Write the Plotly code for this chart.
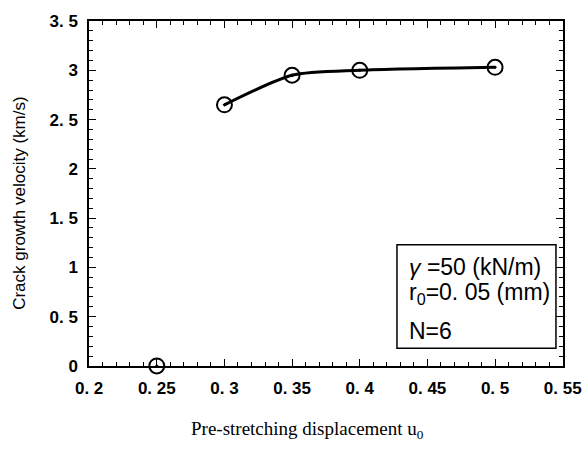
import plotly.graph_objects as go

x_vals = [0.25, 0.3, 0.35, 0.4, 0.5]
y_vals = [0.0, 2.65, 2.95, 3.0, 3.03]
x_ticks = [0.2, 0.25, 0.3, 0.35, 0.4, 0.45, 0.5, 0.55]
x_ticktext = ["0. 2", "0. 25", "0. 3", "0. 35", "0. 4", "0. 45", "0. 5", "0. 55"]
y_ticks = [0, 0.5, 1, 1.5, 2, 2.5, 3, 3.5]
y_ticktext = ["0", "0. 5", "1", "1. 5", "2", "2. 5", "3", "3. 5"]

tickfont = dict(family="Liberation Sans, Arial, sans-serif", size=17, color="black", weight="bold")

fig = go.Figure()
fig.add_trace(go.Scatter(
    x=x_vals[1:], y=y_vals[1:], mode="lines",
    line=dict(color="black", width=3, shape="spline", smoothing=0.7),
    showlegend=False, hoverinfo="skip"))
fig.add_trace(go.Scatter(
    x=x_vals, y=y_vals, mode="markers",
    marker=dict(symbol="circle-open-dot", size=15, color="black", line=dict(width=2, color="black")),
    cliponaxis=False, showlegend=False))

axis_common = dict(
    showline=True, linecolor="black", linewidth=1.5, mirror="ticks",
    ticks="inside", ticklen=7, tickwidth=1.3, tickcolor="black",
    showgrid=False, zeroline=False, tickfont=tickfont, automargin=False,
)
fig.update_xaxes(range=[0.1999, 0.5502], tickvals=x_ticks, ticktext=x_ticktext,
                 ticklabelstandoff=6,
                 minor=dict(dtick=0.01, ticks="inside", ticklen=4, tickcolor="black", tickwidth=1),
                 **axis_common)
fig.update_yaxes(range=[-0.0005, 3.5005], tickvals=y_ticks, ticktext=y_ticktext,
                 ticklabelstandoff=6,
                 minor=dict(dtick=0.1, ticks="inside", ticklen=4, tickcolor="black", tickwidth=1),
                 **axis_common)

fig.add_annotation(
    x=0.5, xref="paper", y=-0.186, yref="paper", yanchor="middle", xanchor="center",
    text="Pre-stretching displacement u<sub>0</sub>", showarrow=False, xshift=-19,
    font=dict(family="Liberation Serif, Times New Roman, serif", size=19, color="black"))
fig.add_annotation(
    x=0, xref="paper", xanchor="center", xshift=-69, y=0.47, yref="paper",
    text="Crack growth velocity (km/s)", textangle=-90, showarrow=False,
    font=dict(family="Liberation Sans, Arial, sans-serif", size=17, color="black"))

boxfont = dict(family="Liberation Sans, Arial, sans-serif", size=23, color="black")
fig.add_shape(type="rect", xref="x", yref="y", x0=0.4275, x1=0.545, y0=0.18, y1=1.23,
              line=dict(color="black", width=1.5), fillcolor="white", layer="below")
fig.add_annotation(x=0.435, y=1.0, xref="x", yref="y", xanchor="left", showarrow=False,
                   text="<i>γ</i> =50 (kN/m)", font=boxfont)
fig.add_annotation(x=0.435, y=0.74, xref="x", yref="y", xanchor="left", showarrow=False,
                   text="r<sub>0</sub>=0. 05 (mm)", font=boxfont)
fig.add_annotation(x=0.435, y=0.35, xref="x", yref="y", xanchor="left", showarrow=False,
                   text="N=6", font=boxfont)

fig.update_layout(
    width=583, height=450,
    margin=dict(l=89, r=20, t=21, b=84),
    plot_bgcolor="white", paper_bgcolor="white",
)
fig.write_html("out.html")
